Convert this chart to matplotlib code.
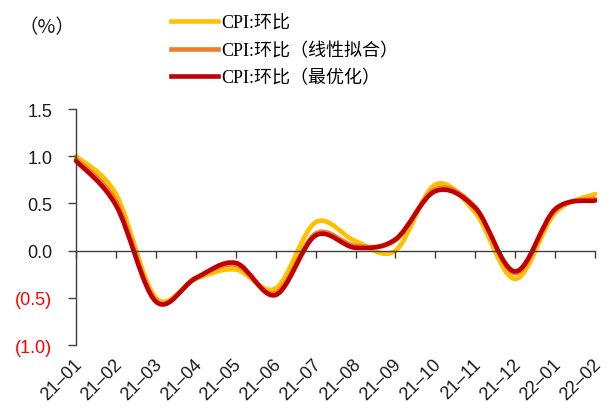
import matplotlib.pyplot as plt
import numpy as np
from matplotlib.path import Path
from matplotlib.patches import PathPatch
from matplotlib.lines import Line2D

# 月份
months = ['21–01', '21–02', '21–03', '21–04', '21–05', '21–06', '21–07',
          '21–08', '21–09', '21–10', '21–11', '21–12', '22–01', '22–02']

# CPI 环比 (%)
cpi_mom = [1.0, 0.6, -0.5, -0.3, -0.2, -0.4, 0.3, 0.1, 0.0, 0.7, 0.4, -0.3, 0.4, 0.6]
cpi_linear = [0.97, 0.52, -0.53, -0.29, -0.15, -0.45, 0.18, 0.05, 0.11, 0.65, 0.46, -0.24, 0.43, 0.55]
cpi_optimal = [0.95, 0.48, -0.54, -0.29, -0.13, -0.47, 0.16, 0.03, 0.12, 0.63, 0.45, -0.22, 0.44, 0.53]

series = [
    ('CPI:环比', cpi_mom, '#FFC000'),
    ('CPI:环比（线性拟合）', cpi_linear, '#ED7D31'),
    ('CPI:环比（最优化）', cpi_optimal, '#C00000'),
]

yticks = [-1.0, -0.5, 0.0, 0.5, 1.0, 1.5]


def smooth_path(x, y):
    # 平滑折线：相邻点之间用三次贝塞尔曲线连接
    pts = np.column_stack([x, y]).astype(float)
    n = len(pts)
    verts = [pts[0]]
    codes = [Path.MOVETO]
    for i in range(n - 1):
        p0 = pts[i - 1] if i > 0 else pts[i]
        p1 = pts[i]
        p2 = pts[i + 1]
        p3 = pts[i + 2] if i + 2 < n else pts[i + 1]
        c1 = p1 + (p2 - p0) / 6.0
        c2 = p2 - (p3 - p1) / 6.0
        verts += [c1, c2, p2]
        codes += [Path.CURVE4] * 3
    return Path(verts, codes)


fig = plt.figure(figsize=(6.11, 4.10), dpi=100)
ax = fig.add_axes([0.1244, 0.156, 0.8496, 0.5757])

x = np.arange(len(months))
handles = []
for label, vals, color in series:
    patch = PathPatch(smooth_path(x, vals), facecolor='none', edgecolor=color,
                      lw=3.3, capstyle='round', joinstyle='round', clip_on=False)
    ax.add_patch(patch)
    handles.append(Line2D([0], [0], color=color, lw=3.3, label=label))

ax.set_xlim(0, len(months) - 1)
ax.set_ylim(-1.0, 1.5)

# 坐标轴
ax.spines['top'].set_visible(False)
ax.spines['right'].set_visible(False)
ax.spines['bottom'].set_position(('data', 0))
for sp in ['left', 'bottom']:
    ax.spines[sp].set_color('#404040')
    ax.spines[sp].set_linewidth(1.0)

ax.set_yticks(yticks)
ax.set_yticklabels([f'({abs(v):.1f})' if v < 0 else f'{v:.1f}' for v in yticks],
                   fontsize=13, family='Liberation Sans')
for lbl, v in zip(ax.get_yticklabels(), yticks):
    lbl.set_color('#FF0000' if v < 0 else '#1A1A1A')
ax.tick_params(axis='y', direction='out', length=6, width=1, color='#404040', pad=11)

ax.set_xticks(x)
ax.set_xticklabels([])
ax.tick_params(axis='x', direction='out', length=5, width=1, color='#404040')

# 月份标签放在图底部
for xi, m in zip(x, months):
    ax.text(xi + 0.08, -0.07, m, transform=ax.get_xaxis_transform(),
            rotation=45, rotation_mode='anchor', ha='right', va='center',
            fontsize=13, family='Liberation Sans', color='#1A1A1A')

fig.text(0.03, 0.932, '（%）', fontsize=14, family=['Noto Sans CJK SC', 'DejaVu Sans'],
         ha='left', va='center', color='#1A1A1A')

ax.legend(handles=handles, loc='upper left', bbox_to_anchor=(0.262, 0.988),
          bbox_transform=fig.transFigure, frameon=False, handlelength=2.6,
          handletextpad=0.2, labelspacing=0.55, borderaxespad=0.2,
          prop={'family': ['Liberation Serif', 'Noto Sans CJK SC'], 'size': 13})

fig.savefig('out.png', dpi=100)
